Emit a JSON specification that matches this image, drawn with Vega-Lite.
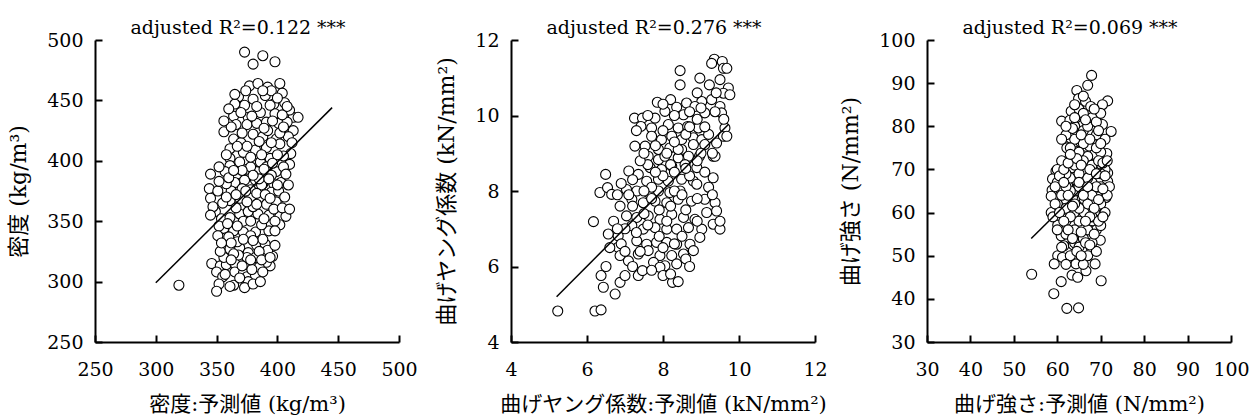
{
  "$schema": "https://vega.github.io/schema/vega-lite/v6.json",
  "background": "white",
  "padding": {"left": 7, "top": 19, "right": 5, "bottom": 2},
  "bounds": "flush",
  "spacing": 112,
  "config": {
    "view": {"stroke": null},
    "axis": {
      "grid": false,
      "domainColor": "black", "domainWidth": 2,
      "tickColor": "black", "tickWidth": 2, "tickSize": -7,
      "labelFont": "DejaVu Serif", "labelFontSize": 19, "labelColor": "black", "labelPadding": 19,
      "titleFont": "DejaVu Serif, Noto Sans CJK JP", "titleFontSize": 22, "titleFontWeight": "normal", "titleColor": "black"
    },
    "axisX": {"titlePadding": 14, "labelFlush": false, "labelPadding": 25, "titleFontSize": 21},
    "axisY": {"titlePadding": 16},
    "title": {"font": "DejaVu Serif", "fontSize": 19, "fontWeight": "normal", "color": "black", "frame": "group", "offset": -7, "dx": -9}
  },
  "datasets": {
    "p1": [
      {"x":373,"y":490},{"x":380,"y":480},{"x":388,"y":487},{"x":398,"y":482},{"x":319,"y":297},
      {"x":368,"y":453},{"x":377,"y":462},{"x":384,"y":464},{"x":402,"y":464},{"x":404,"y":456},{"x":392,"y":461},{"x":364,"y":437},{"x":373,"y":446},{"x":380,"y":451},{"x":390,"y":454},{"x":397,"y":447},{"x":406,"y":448},{"x":413,"y":436},{"x":417,"y":436},{"x":410,"y":442},{"x":376,"y":436},{"x":386,"y":440},{"x":398,"y":439},{"x":394,"y":446},
      {"x":356,"y":424},{"x":366,"y":430},{"x":375,"y":430},{"x":383,"y":431},{"x":391,"y":432},{"x":401,"y":431},{"x":408,"y":432},{"x":413,"y":425},{"x":364,"y":418},{"x":380,"y":422},{"x":388,"y":420},{"x":399,"y":418},{"x":409,"y":420},
      {"x":361,"y":410},{"x":372,"y":407},{"x":382,"y":409},{"x":391,"y":411},{"x":402,"y":414},{"x":411,"y":406},{"x":361,"y":402},{"x":369,"y":399},{"x":386,"y":399},{"x":394,"y":402},{"x":405,"y":404},{"x":410,"y":397},{"x":361,"y":396},
      {"x":345,"y":389},{"x":357,"y":391},{"x":367,"y":389},{"x":375,"y":393},{"x":383,"y":391},{"x":391,"y":395},{"x":399,"y":391},{"x":403,"y":382},{"x":365,"y":382},{"x":373,"y":384},{"x":382,"y":384},{"x":388,"y":381},{"x":397,"y":381},
      {"x":344,"y":377},{"x":351,"y":375},{"x":362,"y":375},{"x":371,"y":377},{"x":378,"y":376},{"x":387,"y":380},{"x":395,"y":374},{"x":401,"y":375},{"x":345,"y":369},{"x":361,"y":367},{"x":369,"y":369},{"x":378,"y":369},{"x":386,"y":367},{"x":391,"y":364},{"x":399,"y":366},
      {"x":349,"y":358},{"x":354,"y":352},{"x":361,"y":353},{"x":369,"y":356},{"x":376,"y":358},{"x":384,"y":356},{"x":393,"y":355},{"x":402,"y":354},{"x":407,"y":354},{"x":356,"y":344},{"x":364,"y":342},{"x":372,"y":341},{"x":382,"y":341},{"x":393,"y":342},{"x":402,"y":347},
      {"x":357,"y":336},{"x":361,"y":327},{"x":369,"y":328},{"x":376,"y":324},{"x":383,"y":330},{"x":390,"y":331},{"x":396,"y":321},{"x":382,"y":320},{"x":375,"y":320},{"x":367,"y":333},
      {"x":346,"y":315},{"x":353,"y":313},{"x":358,"y":314},{"x":365,"y":315},{"x":350,"y":308},{"x":355,"y":304},{"x":365,"y":308},{"x":372,"y":307},{"x":375,"y":304},{"x":382,"y":305},{"x":394,"y":313},{"x":391,"y":316},{"x":376,"y":300},{"x":352,"y":298},{"x":364,"y":297},{"x":361,"y":296},{"x":350,"y":292},
      {"x":370,"y":415},{"x":378,"y":395},{"x":385,"y":385},{"x":395,"y":388},{"x":380,"y":362},{"x":372,"y":350},{"x":387,"y":347},{"x":366,"y":361},{"x":358,"y":381},{"x":392,"y":425},{"x":383,"y":445},{"x":370,"y":440},{"x":405,"y":395},{"x":400,"y":405},{"x":378,"y":338},{"x":388,"y":335},{"x":360,"y":337},{"x":355,"y":365},{"x":397,"y":360},{"x":383,"y":373},{"x":374,"y":375},{"x":368,"y":322},{"x":356,"y":320},{"x":385,"y":312},{"x":379,"y":310},{"x":390,"y":372},{"x":375,"y":412},{"x":365,"y":447},{"x":395,"y":458},{"x":387,"y":405},{"x":402,"y":423},
      {"x":362,"y":428},{"x":371,"y":423},{"x":379,"y":437},{"x":389,"y":427},{"x":396,"y":433},{"x":404,"y":438},{"x":358,"y":405},{"x":367,"y":412},{"x":378,"y":403},{"x":389,"y":393},{"x":396,"y":398},{"x":407,"y":389},{"x":352,"y":383},{"x":360,"y":386},{"x":371,"y":392},{"x":380,"y":388},{"x":393,"y":385},{"x":400,"y":380},{"x":358,"y":370},{"x":366,"y":372},{"x":375,"y":366},{"x":383,"y":364},{"x":394,"y":369},{"x":404,"y":361},{"x":352,"y":346},{"x":359,"y":348},{"x":367,"y":346},{"x":378,"y":350},{"x":389,"y":352},{"x":398,"y":350},{"x":362,"y":332},{"x":372,"y":335},{"x":380,"y":334},{"x":392,"y":326},{"x":353,"y":325},{"x":364,"y":323},{"x":385,"y":325},{"x":371,"y":313},{"x":378,"y":318},{"x":388,"y":308},
      {"x":365,"y":455},{"x":374,"y":458},{"x":388,"y":458},{"x":400,"y":452},{"x":408,"y":445},{"x":360,"y":443},{"x":356,"y":433},{"x":385,"y":416},{"x":395,"y":415},{"x":405,"y":428},{"x":412,"y":415},{"x":364,"y":392},{"x":352,"y":395},{"x":409,"y":380},{"x":347,"y":362},{"x":406,"y":370},{"x":410,"y":360},{"x":398,"y":342},{"x":351,"y":338},{"x":354,"y":332},{"x":398,"y":330},{"x":387,"y":318},{"x":373,"y":295},{"x":369,"y":303},{"x":357,"y":306},{"x":380,"y":298},{"x":386,"y":300},{"x":394,"y":320},{"x":345,"y":355},{"x":362,"y":318}
    ],
    "p2": [
      {"x":9.35,"y":11.49},{"x":9.28,"y":11.38},{"x":9.56,"y":11.43},{"x":9.59,"y":11.25},{"x":9.68,"y":11.25},{"x":8.97,"y":10.99},{"x":9.22,"y":10.81},{"x":9.5,"y":10.95},{"x":9.72,"y":10.73},{"x":9.59,"y":10.59},{"x":9.76,"y":10.55},{"x":9.02,"y":10.37},{"x":9.28,"y":10.42},{"x":9.5,"y":10.24},{"x":9.54,"y":10.07},{"x":9.37,"y":10.1},{"x":9.1,"y":10.07},
      {"x":8.45,"y":11.19},{"x":8.45,"y":10.81},{"x":7.85,"y":10.35},{"x":8.2,"y":10.42},{"x":8.36,"y":10.22},{"x":8.62,"y":10.33},{"x":8.84,"y":10.24},{"x":8.05,"y":10.11},{"x":8.54,"y":10.02},
      {"x":7.25,"y":9.93},{"x":7.46,"y":9.93},{"x":7.79,"y":9.93},{"x":7.42,"y":9.71},{"x":7.7,"y":9.67},{"x":8.14,"y":9.76},{"x":8.4,"y":9.67},{"x":8.65,"y":9.71},{"x":8.93,"y":9.67},{"x":7.7,"y":9.45},{"x":7.96,"y":9.36},{"x":8.23,"y":9.45},{"x":8.49,"y":9.36},{"x":8.8,"y":9.41},{"x":9.02,"y":9.36},{"x":9.63,"y":9.67},{"x":9.59,"y":9.45},{"x":9.68,"y":9.45},{"x":9.41,"y":9.27},{"x":7.26,"y":9.19},{"x":7.53,"y":9.19},{"x":7.88,"y":9.1},{"x":8.18,"y":9.14},{"x":8.49,"y":9.1},{"x":8.8,"y":9.23},{"x":9.1,"y":9.23},{"x":9.32,"y":8.92},{"x":9.37,"y":8.92},
      {"x":7.61,"y":8.92},{"x":7.88,"y":8.83},{"x":8.05,"y":8.92},{"x":8.4,"y":8.88},{"x":8.67,"y":8.92},{"x":8.96,"y":8.92},{"x":7.66,"y":8.62},{"x":7.96,"y":8.57},{"x":8.23,"y":8.66},{"x":8.58,"y":8.7},{"x":8.89,"y":8.62},{"x":7.1,"y":8.53},{"x":7.35,"y":8.44},{"x":6.49,"y":8.44},{"x":7.57,"y":8.26},{"x":7.88,"y":8.31},{"x":8.14,"y":8.26},{"x":8.49,"y":8.31},{"x":8.8,"y":8.26},{"x":9.32,"y":8.35},
      {"x":6.34,"y":7.96},{"x":6.54,"y":8.09},{"x":6.65,"y":7.91},{"x":7.04,"y":8.04},{"x":7.31,"y":8.0},{"x":7.61,"y":7.96},{"x":7.88,"y":8.0},{"x":8.18,"y":7.96},{"x":8.45,"y":8.0},{"x":8.89,"y":8.18},{"x":6.87,"y":7.6},{"x":7.18,"y":7.78},{"x":7.48,"y":7.69},{"x":7.79,"y":7.73},{"x":8.1,"y":7.69},{"x":8.4,"y":7.78},{"x":8.75,"y":7.73},{"x":9.1,"y":7.78},{"x":9.37,"y":7.69},{"x":7.04,"y":7.34},{"x":7.31,"y":7.3},{"x":7.61,"y":7.34},{"x":7.92,"y":7.25},{"x":8.23,"y":7.38},{"x":8.54,"y":7.3},{"x":8.84,"y":7.25},{"x":9.15,"y":7.43},{"x":9.41,"y":7.47},{"x":6.17,"y":7.19},{"x":7.18,"y":7.08},{"x":7.48,"y":6.99},{"x":7.79,"y":7.03},{"x":8.1,"y":6.99},{"x":8.36,"y":6.99},{"x":8.67,"y":7.03},{"x":9.02,"y":6.99},{"x":9.32,"y":7.12},{"x":9.5,"y":6.99},
      {"x":6.56,"y":6.86},{"x":6.82,"y":6.81},{"x":6.82,"y":6.51},{"x":7.31,"y":6.68},{"x":7.57,"y":6.59},{"x":7.83,"y":6.64},{"x":8.1,"y":6.64},{"x":8.36,"y":6.59},{"x":8.71,"y":6.59},{"x":8.97,"y":6.77},{"x":8.8,"y":6.42},{"x":6.87,"y":6.29},{"x":7.09,"y":6.15},{"x":7.35,"y":6.33},{"x":7.61,"y":6.42},{"x":7.92,"y":6.29},{"x":8.23,"y":6.29},{"x":8.54,"y":6.33},{"x":7.75,"y":6.11},{"x":8.05,"y":6.02},{"x":8.36,"y":6.07},{"x":7.92,"y":5.98},
      {"x":6.37,"y":5.76},{"x":6.43,"y":5.45},{"x":6.74,"y":5.27},{"x":6.87,"y":5.58},{"x":7.0,"y":5.76},{"x":7.35,"y":5.76},{"x":7.46,"y":5.89},{"x":8.0,"y":5.76},{"x":8.25,"y":5.58},{"x":5.23,"y":4.82},{"x":6.21,"y":4.82},{"x":6.37,"y":4.85},
      {"x":7.7,"y":8.1},{"x":8.0,"y":8.4},{"x":8.3,"y":8.0},{"x":7.5,"y":7.4},{"x":8.6,"y":7.5},{"x":8.1,"y":7.2},{"x":7.9,"y":6.8},{"x":8.5,"y":6.8},{"x":8.2,"y":8.7},{"x":8.0,"y":9.6},{"x":8.6,"y":9.5},{"x":7.6,"y":8.7},{"x":8.9,"y":7.8},{"x":7.3,"y":6.9},{"x":8.3,"y":6.6},{"x":8.7,"y":8.4},{"x":8.4,"y":9.1},{"x":7.9,"y":7.5},{"x":9.0,"y":9.0},{"x":9.2,"y":9.5},{"x":8.3,"y":10.0},{"x":7.2,"y":8.3},
      {"x":7.4,"y":8.8},{"x":7.8,"y":9.2},{"x":8.3,"y":9.3},{"x":8.7,"y":9.7},{"x":9.0,"y":10.2},{"x":7.5,"y":8.0},{"x":7.8,"y":8.5},{"x":8.6,"y":8.6},{"x":9.1,"y":8.5},{"x":7.2,"y":7.6},{"x":7.7,"y":7.8},{"x":8.5,"y":7.9},{"x":9.2,"y":8.1},{"x":7.0,"y":7.0},{"x":7.6,"y":7.1},{"x":8.2,"y":7.6},{"x":8.9,"y":7.2},{"x":6.9,"y":6.6},{"x":7.4,"y":6.4},{"x":8.0,"y":6.5},{"x":8.6,"y":6.2},{"x":7.2,"y":6.0},{"x":7.7,"y":5.9},{"x":8.2,"y":5.8},{"x":6.7,"y":7.2},{"x":6.5,"y":6.0},{"x":9.6,"y":9.9},{"x":9.4,"y":10.6},{"x":8.9,"y":10.6},{"x":8.1,"y":9.0},
      {"x":7.3,"y":9.6},{"x":7.5,"y":9.0},{"x":8.9,"y":9.9},{"x":9.1,"y":9.7},{"x":8.7,"y":10.1},{"x":8.0,"y":10.3},{"x":7.6,"y":10.0},{"x":8.3,"y":8.5},{"x":8.9,"y":8.8},{"x":9.3,"y":9.0},{"x":6.8,"y":7.9},{"x":6.9,"y":8.2},{"x":7.1,"y":7.9},{"x":9.5,"y":7.2},{"x":9.3,"y":7.9},{"x":6.8,"y":7.0},{"x":7.0,"y":6.4},{"x":8.7,"y":6.0},{"x":8.4,"y":5.6},{"x":6.6,"y":6.5}
    ],
    "p3": [
      {"x":67.9,"y":91.8},{"x":67.0,"y":89.5},{"x":64.5,"y":88.3},{"x":64.9,"y":86.4},{"x":71.6,"y":85.9},{"x":66.5,"y":85.8},{"x":70.4,"y":85.0},{"x":67.7,"y":84.6},{"x":63.2,"y":83.5},{"x":69.0,"y":83.1},{"x":65.1,"y":82.7},{"x":67.2,"y":81.5},{"x":61.0,"y":81.2},{"x":62.9,"y":81.4},{"x":65.8,"y":80.2},{"x":70.4,"y":80.4},{"x":72.4,"y":78.8},{"x":63.9,"y":78.5},{"x":67.6,"y":78.1},{"x":70.1,"y":76.9},{"x":63.0,"y":77.3},{"x":65.5,"y":76.2},{"x":67.4,"y":75.4},{"x":62.2,"y":75.0},{"x":64.7,"y":74.2},{"x":68.5,"y":73.5},{"x":71.4,"y":73.7},{"x":62.8,"y":72.5},{"x":66.2,"y":73.1},
      {"x":61.2,"y":70.8},{"x":63.4,"y":70.4},{"x":67.0,"y":71.5},{"x":70.1,"y":71.2},{"x":59.7,"y":69.6},{"x":65.5,"y":69.8},{"x":68.5,"y":69.2},{"x":71.6,"y":69.2},{"x":58.9,"y":67.8},{"x":61.2,"y":68.5},{"x":63.9,"y":67.7},{"x":66.6,"y":68.1},{"x":71.6,"y":67.2},{"x":58.8,"y":65.2},{"x":62.4,"y":66.2},{"x":64.7,"y":65.8},{"x":67.4,"y":65.4},{"x":69.3,"y":65.9},{"x":58.6,"y":63.8},{"x":60.9,"y":62.3},{"x":63.5,"y":63.5},{"x":66.2,"y":63.1},{"x":68.3,"y":62.7},{"x":71.2,"y":63.5},{"x":58.6,"y":60.0},{"x":61.6,"y":60.8},{"x":63.9,"y":60.0},{"x":66.2,"y":60.0},{"x":68.9,"y":60.4},{"x":70.8,"y":60.0},{"x":60.1,"y":57.1},{"x":63.2,"y":57.7},{"x":65.8,"y":56.9},{"x":68.1,"y":58.1},{"x":60.9,"y":54.6},{"x":63.9,"y":55.4},{"x":67.0,"y":54.2},{"x":69.9,"y":53.6},{"x":61.5,"y":52.3},{"x":63.7,"y":52.5},{"x":66.2,"y":51.9},{"x":67.9,"y":51.5},{"x":60.1,"y":50.0},{"x":61.2,"y":49.6},{"x":64.5,"y":49.2},{"x":59.3,"y":48.1},{"x":64.3,"y":48.1},{"x":68.7,"y":48.1},{"x":66.6,"y":46.5},{"x":63.4,"y":45.5},{"x":64.7,"y":45.0},{"x":54.1,"y":45.7},{"x":60.9,"y":44.0},{"x":70.1,"y":44.2},{"x":59.2,"y":41.2},{"x":62.2,"y":37.8},{"x":64.9,"y":37.9},
      {"x":63,"y":72},{"x":66,"y":70},{"x":68,"y":67},{"x":64,"y":65},{"x":67,"y":62},{"x":62,"y":63},{"x":65,"y":58},{"x":69,"y":56},{"x":64,"y":53},{"x":67,"y":50},{"x":62,"y":55},{"x":66,"y":76},{"x":69,"y":78},{"x":64,"y":80},{"x":70,"y":66},{"x":61,"y":66},{"x":65,"y":61},{"x":68,"y":59},{"x":63,"y":68},{"x":67,"y":73},{"x":70,"y":62},{"x":62,"y":58},{"x":66,"y":54},{"x":63,"y":50},{"x":68,"y":82},{"x":65,"y":84},
      {"x":60,"y":67},{"x":62,"y":69},{"x":64,"y":71},{"x":66,"y":72},{"x":68,"y":71},{"x":70,"y":74},{"x":71,"y":77},{"x":69,"y":75},{"x":66,"y":79},{"x":64,"y":77},{"x":62,"y":78},{"x":63,"y":75},{"x":65,"y":74},{"x":67,"y":80},{"x":69,"y":81},{"x":66,"y":83},{"x":64,"y":82},{"x":66,"y":87},{"x":70,"y":83},{"x":71,"y":70},{"x":72,"y":66},{"x":71,"y":60},{"x":70,"y":57},{"x":69,"y":51},{"x":68,"y":53},{"x":66,"y":48},{"x":62,"y":48},{"x":61,"y":52},{"x":60,"y":56},{"x":59,"y":59},{"x":60,"y":62},{"x":61,"y":64},{"x":62,"y":61},{"x":63,"y":59},{"x":64,"y":56},{"x":65,"y":52},{"x":67,"y":56},{"x":68,"y":64},{"x":69,"y":66},{"x":67,"y":68},{"x":65,"y":66},{"x":64,"y":62},{"x":63,"y":65},{"x":62,"y":66},{"x":66,"y":64},{"x":65,"y":69},{"x":68,"y":71},{"x":70,"y":69},{"x":61,"y":72},{"x":60,"y":70},
      {"x":59.5,"y":66},{"x":60.5,"y":68.5},{"x":61.5,"y":70},{"x":62.5,"y":71.5},{"x":64.5,"y":72.5},{"x":65.5,"y":71},{"x":67.5,"y":70},{"x":69.5,"y":72},{"x":70.5,"y":71.5},{"x":71.5,"y":72},{"x":59.5,"y":62},{"x":60.5,"y":60},{"x":61.5,"y":58},{"x":62.5,"y":56},{"x":63.5,"y":54},{"x":64.5,"y":51},{"x":65.5,"y":50},{"x":66.5,"y":53},{"x":67.5,"y":52.5},{"x":68.5,"y":55},{"x":69.5,"y":58},{"x":70.5,"y":59},{"x":71.5,"y":64},{"x":70.5,"y":65.5},{"x":69.5,"y":63},{"x":68.5,"y":61},{"x":67.5,"y":59},{"x":66.5,"y":58},{"x":65.5,"y":55.5},{"x":63.5,"y":61.5},{"x":62.5,"y":64},{"x":61.5,"y":67},{"x":65.5,"y":78},{"x":67.5,"y":77},{"x":69.5,"y":79},{"x":63.5,"y":79.5},{"x":66.5,"y":81.5},{"x":68.5,"y":84},{"x":64,"y":85},{"x":70,"y":76},{"x":62,"y":80},{"x":61,"y":77},{"x":63,"y":73.5},{"x":65,"y":67},{"x":67,"y":66},{"x":69,"y":69},{"x":71,"y":68.5}
    ]
  },
  "hconcat": [
    {
      "width": 304, "height": 302,
      "title": "adjusted R²=0.122 ***",
      "layer": [
        {
          "data": {"name": "p1"},
          "mark": {"type": "point", "filled": true, "fill": "white", "stroke": "black", "strokeWidth": 1.1, "size": 100, "opacity": 1},
          "encoding": {
            "x": {"field": "x", "type": "quantitative", "scale": {"domain": [250, 500], "nice": false, "zero": false}, "axis": {"title": "密度:予測値 (kg/m³)", "values": [250, 300, 350, 400, 450, 500]}},
            "y": {"field": "y", "type": "quantitative", "scale": {"domain": [250, 500], "nice": false, "zero": false}, "axis": {"title": "密度 (kg/m³)", "values": [250, 300, 350, 400, 450, 500]}}
          }
        },
        {
          "data": {"values": [{"x": 300, "y": 299}, {"x": 445, "y": 444}]},
          "mark": {"type": "line", "color": "black", "strokeWidth": 1.5},
          "encoding": {"x": {"field": "x", "type": "quantitative"}, "y": {"field": "y", "type": "quantitative"}}
        }
      ]
    },
    {
      "width": 304, "height": 302,
      "title": "adjusted R²=0.276 ***",
      "layer": [
        {
          "data": {"name": "p2"},
          "mark": {"type": "point", "filled": true, "fill": "white", "stroke": "black", "strokeWidth": 1.1, "size": 100, "opacity": 1},
          "encoding": {
            "x": {"field": "x", "type": "quantitative", "scale": {"domain": [4, 12], "nice": false, "zero": false}, "axis": {"title": "曲げヤング係数:予測値 (kN/mm²)", "values": [4, 6, 8, 10, 12]}},
            "y": {"field": "y", "type": "quantitative", "scale": {"domain": [4, 12], "nice": false, "zero": false}, "axis": {"title": "曲げヤング係数 (kN/mm²)", "values": [4, 6, 8, 10, 12]}}
          }
        },
        {
          "data": {"values": [{"x": 5.2, "y": 5.2}, {"x": 9.72, "y": 9.76}]},
          "mark": {"type": "line", "color": "black", "strokeWidth": 1.5},
          "encoding": {"x": {"field": "x", "type": "quantitative"}, "y": {"field": "y", "type": "quantitative"}}
        }
      ]
    },
    {
      "width": 304, "height": 302,
      "title": "adjusted R²=0.069 ***",
      "layer": [
        {
          "data": {"name": "p3"},
          "mark": {"type": "point", "filled": true, "fill": "white", "stroke": "black", "strokeWidth": 1.1, "size": 100, "opacity": 1},
          "encoding": {
            "x": {"field": "x", "type": "quantitative", "scale": {"domain": [30, 100], "nice": false, "zero": false}, "axis": {"title": "曲げ強さ:予測値 (N/mm²)", "values": [30, 40, 50, 60, 70, 80, 90, 100]}},
            "y": {"field": "y", "type": "quantitative", "scale": {"domain": [30, 100], "nice": false, "zero": false}, "axis": {"title": "曲げ強さ (N/mm²)", "values": [30, 40, 50, 60, 70, 80, 90, 100]}}
          }
        },
        {
          "data": {"values": [{"x": 54, "y": 54}, {"x": 72.4, "y": 72.3}]},
          "mark": {"type": "line", "color": "black", "strokeWidth": 1.5},
          "encoding": {"x": {"field": "x", "type": "quantitative"}, "y": {"field": "y", "type": "quantitative"}}
        }
      ]
    }
  ]
}
